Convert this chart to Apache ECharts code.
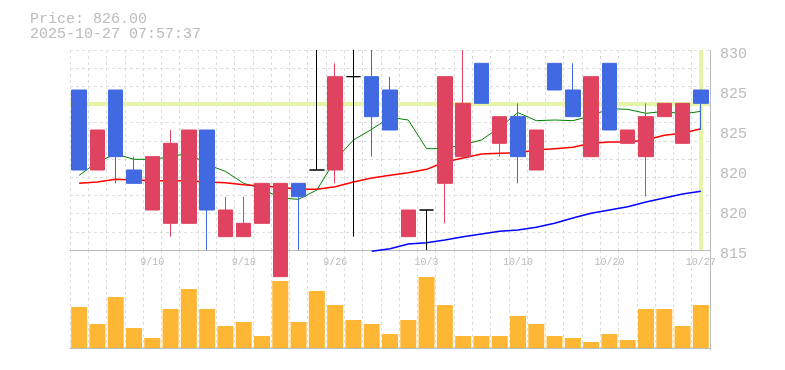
<!DOCTYPE html>
<html>
<head>
<meta charset="utf-8">
<script src="https://cdn.jsdelivr.net/npm/echarts@6/dist/echarts.min.js"></script>
<style>
html,body{margin:0;padding:0;background:#fff;}
#chart{width:785px;height:370px;}
</style>
</head>
<body>
<div id="chart"></div>
<script>
// ---- data ----
const dates = ['9/4','9/5','9/8','9/9','9/10','9/11','9/12','9/16','9/17','9/18','9/19','9/22','9/24','9/25','9/26','9/29','9/30','10/1','10/2','10/3','10/6','10/7','10/8','10/9','10/10','10/14','10/15','10/16','10/17','10/20','10/21','10/22','10/23','10/24','10/27'];
const labeledDates = ['9/10','9/18','9/26','10/3','10/10','10/20','10/27'];
// [open, close, low, high]
const ohlc = [
  [827,821,821,827],[821,824,821,824],[827,822,820,827],[821,820,820,822],[818,822,818,822],
  [817,823,816,824],[817,824,817,824],[824,818,815,824],[816,818,816,819],[816,817,816,819],
  [817,820,817,820],[813,820,813,820],[820,819,815,820],[821,821,821,830],[821,828,820,829],
  [828,828,816,830],[828,825,822,830],[827,824,824,828],[816,818,816,818],[818,818,815,818],
  [820,828,817,828],[822,826,822,830],[829,826,826,829],[823,825,822,825],[825,822,820,826],
  [821,824,821,824],[829,827,827,829],[827,825,825,829],[822,828,822,828],[829,824,824,829],
  [823,824,823,824],[822,825,819,826],[825,826,825,826],[823,826,823,826],[827,826,824,827]
];
const maShort = [820.6,821.6,822.2,821.8,821.8,822.0,822.25,821.4,820.9,820.0,819.6,818.9,818.8,819.5,821.75,823.25,824.05,824.95,824.75,822.6,822.6,822.9,823.25,824.2,825.3,824.7,824.75,824.7,825.05,825.6,825.55,825.25,825.4,825.2,825.4];
const maMid = [820.0,820.1,820.3,820.25,820.2,820.2,820.2,820.1,820.05,819.9,819.8,819.7,819.55,819.55,819.75,820.1,820.4,820.6,820.8,821.05,821.6,821.9,822.2,822.25,822.3,822.5,822.6,822.7,823.0,823.1,823.1,823.25,823.6,823.75,824.1];
const maLong = [null,null,null,null,null,null,null,null,null,null,null,null,null,null,null,null,814.9,815.1,815.45,815.55,815.75,816.0,816.2,816.4,816.5,816.7,817.0,817.4,817.75,818.0,818.25,818.6,818.9,819.2,819.4];
const volume = [41,24,51,20,10,39,59,39,22,26,12,67,26,57,43,28,24,14,28,71,43,12,12,12,32,24,12,10,6,14,8,39,39,22,43];
const currentPrice = 826;
const timestamp = '2025-10-27 07:57:37';

// ---- chart ----
const FONT = 'Liberation Mono';
const GRAY = '#bbbbbb';
const GRID_DASH = {show:true, lineStyle:{color:'#dddddd', type:[3,3], width:1}};
const chart = echarts.init(document.getElementById('chart'), null, {renderer:'canvas'});
chart.setOption({
  animation:false,
  backgroundColor:'#ffffff',
  title:{
    text:'Price: ' + currentPrice.toFixed(2) + '\n' + timestamp,
    left:30, top:12, padding:0,
    textStyle:{fontFamily:FONT, fontSize:15, lineHeight:15, color:GRAY, fontWeight:'normal'}
  },
  grid:[
    {left:70, right:75, top:50, height:200},
    {left:70, right:75, top:250, height:100}
  ],
  xAxis:[
    {type:'category', gridIndex:0, data:dates, boundaryGap:true,
     axisLine:{show:true, lineStyle:{color:GRAY, width:1}},
     axisTick:{show:false},
     axisLabel:{interval:(i, v) => labeledDates.includes(v), color:GRAY, fontSize:10, fontFamily:FONT, margin:7},
     splitLine:Object.assign({interval:0}, GRID_DASH)},
    {type:'category', gridIndex:1, data:dates, boundaryGap:true,
     axisLine:{show:true, lineStyle:{color:GRAY, width:1}},
     axisTick:{show:false}, axisLabel:{show:false},
     splitLine:Object.assign({interval:0}, GRID_DASH)}
  ],
  yAxis:[
    {type:'value', gridIndex:0, position:'right', min:815, max:830, interval:3,
     axisLine:{show:true, lineStyle:{color:GRAY}}, axisTick:{show:false},
     axisLabel:{margin:10,
                formatter:v => '{p|' + Math.round(v/5)*5 + '}',
                rich:{p:{color:GRAY, fontSize:15, fontFamily:FONT, padding:[8,0,0,0]}}},
     splitLine:{show:false}},
    {type:'value', gridIndex:0, position:'left', min:0, max:11, interval:1,
     axisLine:{show:false}, axisTick:{show:false}, axisLabel:{show:false},
     splitLine:GRID_DASH},
    {type:'value', gridIndex:1, position:'right', min:-2, max:98,
     axisLine:{show:true, lineStyle:{color:GRAY}}, axisTick:{show:false},
     axisLabel:{show:false}, splitLine:{show:false}}
  ],
  series:[
    {type:'line', name:'MA short', xAxisIndex:0, yAxisIndex:0, data:maShort, symbol:'none', clip:false,
     lineStyle:{color:'#008000', width:1}, z:2},
    {type:'line', name:'MA mid', xAxisIndex:0, yAxisIndex:0, data:maMid, symbol:'none', clip:false,
     lineStyle:{color:'#ff0000', width:1.5}, z:2},
    {type:'line', name:'MA long', xAxisIndex:0, yAxisIndex:0, data:maLong, symbol:'none', clip:false,
     lineStyle:{color:'#0000ff', width:1.5}, z:2},
    {type:'candlestick', xAxisIndex:0, yAxisIndex:0, data:ohlc, barWidth:15, clip:false, z:3,
     itemStyle:{color:'#e0435f', color0:'#4169e1', borderColor:'#e0435f', borderColor0:'#4169e1',
                borderColorDoji:'#000000', borderWidth:1},
     markLine:{silent:true, symbol:['none','none'], label:{show:false}, z:1,
       lineStyle:{color:'#e4f5a6', width:4, type:'solid'},
       emphasis:{disabled:true},
       data:[{yAxis:currentPrice}, {xAxis:dates.length-1}]}},
    {type:'bar', xAxisIndex:1, yAxisIndex:2, data:volume, barWidth:16,
     itemStyle:{color:'#fdb735'}}
  ]
});
</script>
</body>
</html>
